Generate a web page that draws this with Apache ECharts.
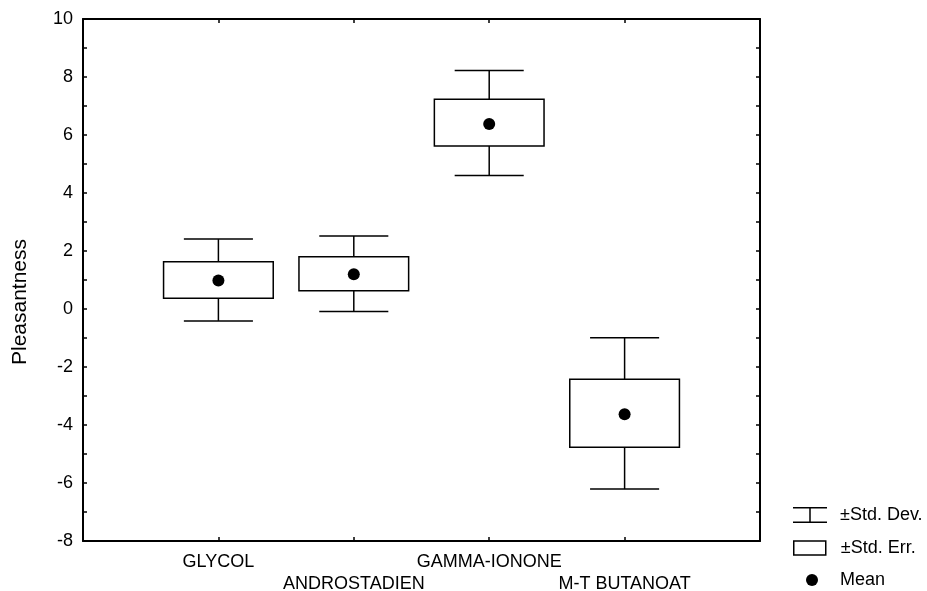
<!DOCTYPE html>
<html>
<head>
<meta charset="utf-8">
<script src="https://cdn.jsdelivr.net/npm/echarts@6/dist/echarts.min.js"></script>
<style>
html,body{margin:0;padding:0;background:#fff;}
#chart{width:927px;height:591px;}
</style>
</head>
<body>
<div id="chart"></div>
<script>
// ---- data ----
const categories = ['GLYCOL', 'ANDROSTADIEN', 'GAMMA-IONONE', 'M-T BUTANOAT'];
const means   = [0.98, 1.20, 6.38, -3.63];
const seLow   = [0.37, 0.63, 5.62, -4.77];
const seHigh  = [1.63, 1.80, 7.23, -2.42];
const sdLow   = [-0.41, -0.09, 4.60, -6.21];
const sdHigh  = [2.41, 2.52, 8.22, -0.99];
const yTickValues = [-8, -6, -4, -2, 0, 2, 4, 6, 8, 10];

const FONT = "'Liberation Sans', Arial, sans-serif";
const BOX_HALF = 0.405;   // in category units
const CAP_HALF = 0.255;
const LW = 1.5;

const boxData = categories.map((c, i) => [i + 1, sdLow[i], seLow[i], seHigh[i], sdHigh[i]]);
const meanData = categories.map((c, i) => [i + 1, means[i]]);

function whiskers(params, api) {
  const x = api.value(0);
  const pLow = api.coord([x, api.value(1)]);
  const pSeLow = api.coord([x, api.value(2)]);
  const pSeHigh = api.coord([x, api.value(3)]);
  const pHigh = api.coord([x, api.value(4)]);
  const capW = api.size([CAP_HALF, 0])[0];
  const st = { stroke: '#000', lineWidth: LW, fill: null };
  return {
    type: 'group',
    children: [
      { type: 'line', shape: { x1: pHigh[0], y1: pHigh[1], x2: pSeHigh[0], y2: pSeHigh[1] }, style: st },
      { type: 'line', shape: { x1: pLow[0], y1: pLow[1], x2: pSeLow[0], y2: pSeLow[1] }, style: st },
      { type: 'line', shape: { x1: pHigh[0] - capW, y1: pHigh[1], x2: pHigh[0] + capW, y2: pHigh[1] }, style: st },
      { type: 'line', shape: { x1: pLow[0] - capW, y1: pLow[1], x2: pLow[0] + capW, y2: pLow[1] }, style: st }
    ]
  };
}

function boxes(params, api) {
  const x = api.value(0);
  const pSeLow = api.coord([x, api.value(2)]);
  const pSeHigh = api.coord([x, api.value(3)]);
  const w = api.size([BOX_HALF, 0])[0];
  return {
    type: 'rect',
    shape: { x: pSeHigh[0] - w, y: pSeHigh[1], width: 2 * w, height: pSeLow[1] - pSeHigh[1] },
    style: { stroke: '#000', lineWidth: LW, fill: '#fff' }
  };
}

const chart = echarts.init(document.getElementById('chart'), null, { renderer: 'canvas' });

const beamPath = 'path://M0 0H34V1.5H0Z M16.25 1.5H17.75V14.5H16.25Z M0 14.5H34V16H0Z';

const axisLineStyle = { show: true, onZero: false, lineStyle: { color: '#000', width: 2 } };
const tickStyle = { show: true, inside: true, length: 4, lineStyle: { color: '#000', width: 1.5 } };

chart.setOption({
  animation: false,
  backgroundColor: '#fff',
  textStyle: { fontFamily: FONT, color: '#000' },
  grid: { left: 83, top: 19, right: 167, bottom: 50, containLabel: false, outerBoundsMode: 'none' },
  xAxis: [
    {
      type: 'value', min: 0, max: 5, interval: 1, position: 'bottom',
      axisLine: axisLineStyle, axisTick: tickStyle,
      splitLine: { show: false },
      axisLabel: {
        margin: 10, fontSize: 18, lineHeight: 22, color: '#000', fontFamily: FONT,
        formatter: function (v) {
          const i = Math.round(v) - 1;
          if (i < 0 || i >= categories.length) return '';
          return (i % 2 === 1 ? '\n' : '') + categories[i];
        }
      }
    },
    {
      type: 'value', min: 0, max: 5, interval: 1, position: 'top',
      axisLine: axisLineStyle, axisTick: tickStyle,
      splitLine: { show: false },
      axisLabel: { show: false }
    }
  ],
  yAxis: [
    {
      type: 'value', min: -8, max: 10, interval: 1, position: 'left',
      name: 'Pleasantness', nameLocation: 'middle', nameGap: 52, nameRotate: 90,
      nameTextStyle: { fontSize: 21, color: '#000', fontFamily: FONT, padding: [0, 44, 0, 0] },
      axisLine: axisLineStyle, axisTick: tickStyle,
      splitLine: { show: false },
      axisLabel: {
        margin: 10, fontSize: 18, color: '#000', fontFamily: FONT,
        formatter: function (v) { return yTickValues.indexOf(v) >= 0 ? String(v) : ''; }
      }
    },
    {
      type: 'value', min: -8, max: 10, interval: 1, position: 'right',
      axisLine: axisLineStyle, axisTick: tickStyle,
      splitLine: { show: false },
      axisLabel: { show: false }
    }
  ],
  legend: [
    {
      data: [{ name: '±Std. Dev.', icon: beamPath, itemStyle: { color: '#000', borderWidth: 0 } }],
      left: 793, top: 506, padding: 0, orient: 'vertical',
      itemWidth: 34, itemHeight: 16, selectedMode: false,
      textStyle: { fontSize: 18, color: '#000', fontFamily: FONT, padding: [0, 0, 0, 8] }
    },
    {
      data: [{ name: '±Std. Err.', icon: 'rect', itemStyle: { color: '#fff', borderColor: '#000', borderWidth: 1.5 } }],
      left: 793, top: 539, padding: 0, orient: 'vertical',
      itemWidth: 32, itemHeight: 14, selectedMode: false,
      textStyle: { fontSize: 18, color: '#000', fontFamily: FONT, padding: [0, 0, 0, 10] }
    },
    {
      data: [{ name: 'Mean', icon: 'circle', itemStyle: { color: '#000' } }],
      left: 806, top: 571, padding: 0, orient: 'vertical',
      itemWidth: 12, itemHeight: 12, selectedMode: false,
      textStyle: { fontSize: 18, color: '#000', fontFamily: FONT, padding: [0, 0, 0, 17] }
    }
  ],
  series: [
    {
      name: '±Std. Dev.', type: 'custom', renderItem: whiskers,
      xAxisIndex: 0, yAxisIndex: 0,
      encode: { x: 0, y: [1, 2, 3, 4] },
      itemStyle: { color: '#000' },
      data: boxData, z: 2
    },
    {
      name: '±Std. Err.', type: 'custom', renderItem: boxes,
      xAxisIndex: 0, yAxisIndex: 0,
      encode: { x: 0, y: [1, 2, 3, 4] },
      itemStyle: { color: '#fff', borderColor: '#000' },
      data: boxData, z: 3
    },
    {
      name: 'Mean', type: 'scatter', symbol: 'circle', symbolSize: 12,
      xAxisIndex: 0, yAxisIndex: 0,
      itemStyle: { color: '#000', opacity: 1 },
      data: meanData, z: 4
    }
  ]
});
</script>
</body>
</html>
